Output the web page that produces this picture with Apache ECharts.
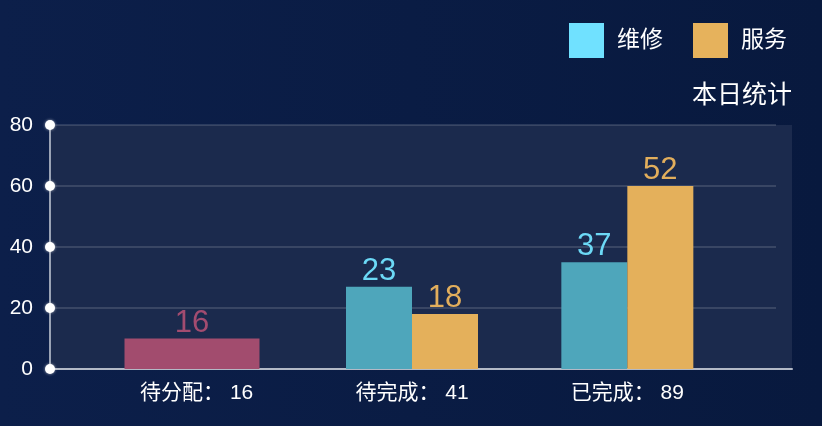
<!DOCTYPE html>
<html>
<head>
<meta charset="utf-8">
<script src="https://cdn.jsdelivr.net/npm/echarts@6/dist/echarts.min.js"></script>
<style>
  html, body { margin: 0; padding: 0; background: #0b1d45; }
  #chart { width: 822px; height: 426px; }
</style>
</head>
<body>
<div id="chart"></div>
<script>
// categories and the totals shown after them on the x axis
var categories = ['待分配', '待完成', '已完成'];
var totals = [16, 41, 89];
// bar heights as drawn, and the numbers printed above them
var repairHeights = [null, 27, 35];
var repairLabels = [null, 23, 37];
var serviceHeights = [null, 18, 60];
var serviceLabels = [null, 18, 52];
var pendingHeights = [10, null, null];
var pendingLabels = [16, null, null];
var yTicks = [0, 20, 40, 60, 80];

var xLabels = categories.map(function (c, i) { return c + '： ' + totals[i]; });
var font = '"Liberation Sans", "Noto Sans CJK SC", sans-serif';

var chart = echarts.init(document.getElementById('chart'));

function barLabel(arr, color) {
  return {
    show: true,
    position: 'top',
    distance: 0,
    color: color,
    fontSize: 31,
    fontFamily: font,
    formatter: function (p) { return arr[p.dataIndex]; }
  };
}

var option = {
  animation: false,
  backgroundColor: {
    type: 'linear', x: 0, y: 0, x2: 1, y2: 0,
    colorStops: [{ offset: 0, color: '#0c1f4a' }, { offset: 1, color: '#08193e' }]
  },
  textStyle: { fontFamily: font },
  title: {
    text: '本日统计',
    right: 25,
    top: 79,
    textStyle: { color: '#fff', fontSize: 25, fontWeight: 'normal', fontFamily: font }
  },
  legend: {
    data: [
      { name: '维修', itemStyle: { color: '#70e1ff' } },
      { name: '服务', itemStyle: { color: '#e6b25c' } }
    ],
    icon: 'rect',
    right: 30,
    top: 18,
    itemWidth: 35,
    itemHeight: 35,
    itemGap: 30,
    textStyle: { color: '#fff', fontSize: 23, padding: [0, 0, 0, 8], fontFamily: font }
  },
  grid: [
    { left: 50, right: 30, top: 125, bottom: 57, show: true, backgroundColor: '#1b2a4d', borderWidth: 0 },
    { left: 50, right: 46, top: 125, bottom: 57 },
    { left: 89, right: 87, top: 125, bottom: 57 },
    { left: 84, right: 90, top: 125, bottom: 57 }
  ],
  xAxis: [
    {
      gridIndex: 0, type: 'value', min: 0, max: 1,
      axisLine: { show: true, lineStyle: { color: '#b3b9c6', width: 2 } },
      axisTick: { show: false }, axisLabel: { show: false }, splitLine: { show: false }
    },
    { gridIndex: 1, type: 'value', min: 0, max: 1, show: false },
    {
      gridIndex: 2, type: 'category', data: xLabels,
      axisLine: { show: false }, axisTick: { show: false },
      axisLabel: { color: '#fff', fontSize: 21, margin: 14, fontFamily: font }
    },
    { gridIndex: 3, type: 'category', data: xLabels, show: false }
  ],
  yAxis: [
    { gridIndex: 0, type: 'value', min: 0, max: 80, show: false },
    {
      gridIndex: 1, type: 'value', min: yTicks[0], max: yTicks[yTicks.length - 1], interval: 20,
      axisLine: { show: true, lineStyle: { color: '#9aa3b5', width: 2 } },
      axisTick: { show: false },
      splitLine: { lineStyle: { color: 'rgba(255,255,255,0.18)', width: 1.5 } },
      axisLabel: {
        margin: -5,
        formatter: function (v) { return '{v|' + v + '}{d|}'; },
        rich: {
          v: { color: '#fff', fontSize: 21, fontFamily: font, padding: [0, 12, 0, 0], verticalAlign: 'middle' },
          d: {
            width: 10, height: 10, borderRadius: 5, backgroundColor: '#fff',
            shadowBlur: 3, shadowColor: 'rgba(255,255,255,0.6)', verticalAlign: 'middle'
          }
        }
      }
    },
    { gridIndex: 2, type: 'value', min: 0, max: 80, show: false },
    { gridIndex: 3, type: 'value', min: 0, max: 80, show: false }
  ],
  series: [
    {
      name: '维修', type: 'bar', xAxisIndex: 2, yAxisIndex: 2,
      data: repairHeights, barWidth: 66, barGap: 0,
      itemStyle: { color: '#4ea6bb' },
      label: barLabel(repairLabels, '#6cd9f6')
    },
    {
      name: '服务', type: 'bar', xAxisIndex: 2, yAxisIndex: 2,
      data: serviceHeights, barWidth: 66, barGap: 0,
      itemStyle: { color: '#e4b05b' },
      label: barLabel(serviceLabels, '#e2ae5c')
    },
    {
      name: '待分配', type: 'bar', xAxisIndex: 3, yAxisIndex: 3,
      data: pendingHeights, barWidth: 135,
      itemStyle: { color: '#a24c6e' },
      label: barLabel(pendingLabels, '#a24c70')
    }
  ]
};

chart.setOption(option);
</script>
</body>
</html>
